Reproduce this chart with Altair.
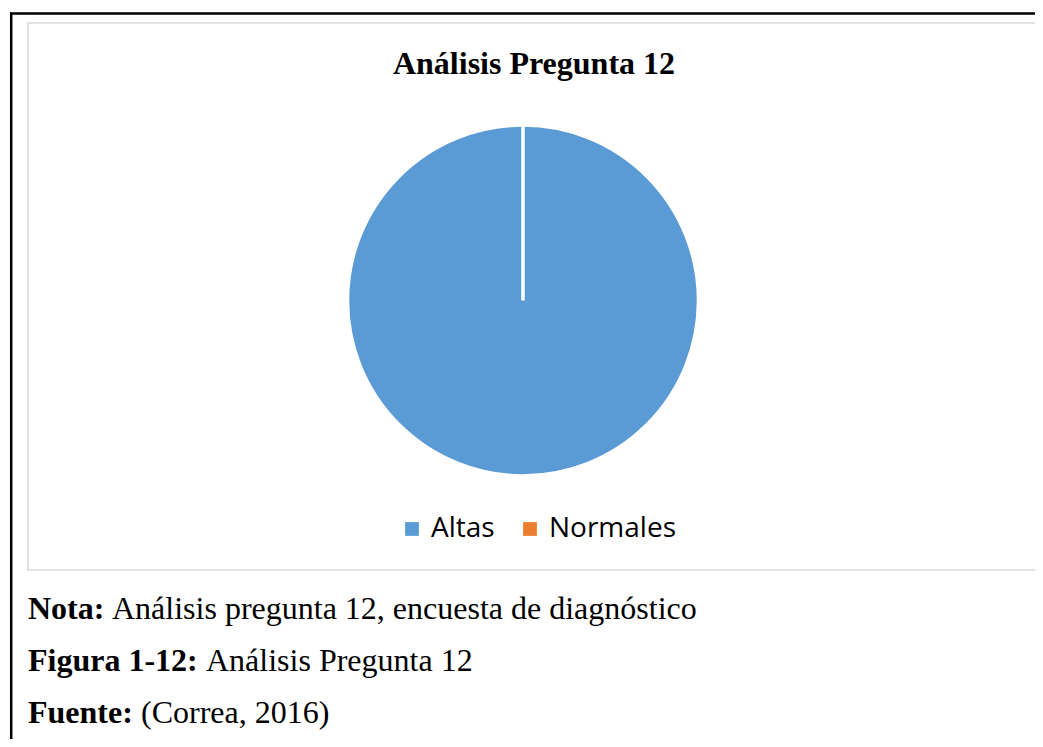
import altair as alt
import pandas as pd

# ---- data ----
categories = ["Altas", "Normales"]
values = [100, 0]
colors = ["#5B9BD5", "#ED7D31"]

title_text = "Análisis Pregunta 12"
note_labels = ["Nota:", "Figura 1-12:", "Fuente:"]
note_texts = ["Análisis pregunta 12, encuesta de diagnóstico",
              "Análisis Pregunta 12",
              "(Correa, 2016)"]

# ---- layout (chart coords, page minus 8px margin) ----
W, H = 1027, 731
note_label_x = 18
note_text_x = [102, 196, 131]
note_y = [611, 663, 715]

pie_df = pd.DataFrame({"category": categories, "value": values})
one = alt.Data(values=[{"k": 0}])

serif = "Liberation Serif"

pie = alt.Chart(pie_df).mark_arc(
    radius=175.5, stroke="white", strokeWidth=3.5
).encode(
    theta=alt.Theta("value:Q", stack=True),
    color=alt.Color(
        "category:N",
        scale=alt.Scale(domain=categories, range=colors),
        sort=categories,
        legend=alt.Legend(
            title=None, orient="none", direction="horizontal",
            legendX=388, legendY=507, padding=0,
            symbolType="square", symbolSize=190, symbolStrokeWidth=0,
            labelFont="Open Sans", labelFontSize=28, labelColor="#000000",
            labelOffset=5, columnPadding=21,
        ),
    ),
    order=alt.Order("category:N", sort="ascending"),
    x=alt.value(513),
    y=alt.value(292.5),
)

frame = alt.Chart(one).mark_rect(
    filled=False, stroke="#D9D9D9", strokeWidth=1.6
).encode(
    x=alt.value(18), x2=alt.value(1026), y=alt.value(15), y2=alt.value(562)
)

top_line = alt.Chart(one).mark_rule(color="#000000", strokeWidth=2.5).encode(
    x=alt.value(0), x2=alt.value(W), y=alt.value(5.5)
)
left_line = alt.Chart(one).mark_rule(color="#000000", strokeWidth=2.5).encode(
    x=alt.value(1.2), y=alt.value(4.5), y2=alt.value(H)
)

title = alt.Chart(pd.DataFrame({"t": [title_text]})).mark_text(
    font=serif, fontSize=32, fontWeight="bold", color="#000000",
    align="center", baseline="alphabetic"
).encode(text="t:N", x=alt.value(524), y=alt.value(65.5))

layers = [frame, top_line, left_line, pie, title]
for i in range(3):
    lab = alt.Chart(pd.DataFrame({"t": [note_labels[i]]})).mark_text(
        font=serif, fontSize=32, fontWeight="bold", color="#000000",
        align="left", baseline="alphabetic"
    ).encode(text="t:N", x=alt.value(note_label_x), y=alt.value(note_y[i]))
    txt = alt.Chart(pd.DataFrame({"t": [note_texts[i]]})).mark_text(
        font=serif, fontSize=32, color="#000000",
        align="left", baseline="alphabetic"
    ).encode(text="t:N", x=alt.value(note_text_x[i]), y=alt.value(note_y[i]))
    layers += [lab, txt]

chart = alt.layer(*layers).properties(
    width=W, height=H,
    autosize=alt.AutoSizeParams(type="fit", contains="padding"),
    padding=0, background="white",
).configure_view(stroke=None)

chart.save("out.html", embed_options={"renderer": "svg", "actions": False})
